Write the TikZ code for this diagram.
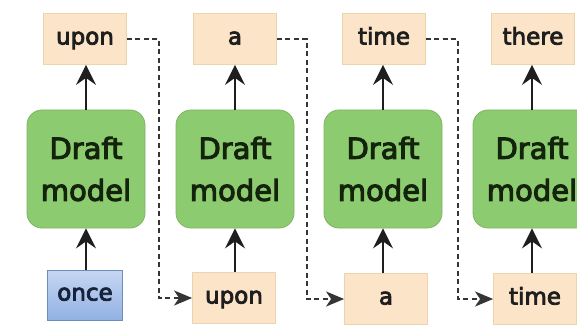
\documentclass[tikz,border=0pt]{standalone}
\usepackage{fontspec}
\setmainfont{DejaVu Sans}
\usetikzlibrary{arrows.meta}
\definecolor{tokfill}{HTML}{FCE4C8}
\definecolor{tokline}{HTML}{EFD3AE}
\definecolor{draftfill}{HTML}{8DCB70}
\definecolor{draftline}{HTML}{7DB562}
\definecolor{drafttext}{HTML}{14240C}
\definecolor{inptop}{HTML}{C6D7F3}
\definecolor{inpbot}{HTML}{92B1E3}
\definecolor{inpline}{HTML}{6C8EBF}
\definecolor{inptext}{HTML}{16213A}
\definecolor{ink}{HTML}{1E1E1E}
\newfontfamily\boxfont[FakeBold=3.5]{DejaVu Sans}
\tikzset{
  tok/.style={draw=tokline, line width=0.8pt, fill=tokfill, minimum width=83pt, minimum height=51pt,
    inner sep=0pt, text=ink, font=\fontsize{23}{28}\boxfont,
    text height=15pt, text depth=4pt},
  draftbox/.style={draw=draftline, line width=0.8pt, fill=draftfill, rounded corners=15pt,
    minimum width=118pt, minimum height=118pt, inner sep=0pt, align=center, text=drafttext,
    font=\fontsize{29}{42}\boxfont},
  inp/.style={draw=inpline, line width=0.9pt, top color=inptop, bottom color=inpbot,
    minimum width=75pt, minimum height=50pt, inner sep=0pt, text=inptext,
    font=\fontsize{23}{28}\boxfont, text height=15pt, text depth=4pt},
  uparr/.style={draw=ink, line width=1.7pt, -{Stealth[length=20pt,width=20pt,inset=7pt]}},
  passarr/.style={draw=ink!90, line width=1.7pt, dash pattern=on 5pt off 3.5pt,
    -{Stealth[length=18pt,width=15pt,inset=5pt]}},
}
\begin{document}
\begin{tikzpicture}[x=1pt,y=-1pt]
  \useasboundingbox (0,0) rectangle (577,331);
  \fill[white] (0,0) rectangle (577,331);
  \clip (0,0) rectangle (577,331);

  % column 1
  \node[tok] (t1) at (85,39) {upon};
  \node[draftbox] (d1) at (86,169) {Draft\\model};
  \node[inp] (i1) at (85,295) {once};
  % column 2
  \node[tok] (t2) at (235,39) {a};
  \node[draftbox] (d2) at (235,169) {Draft\\model};
  \node[tok] (b2) at (234,298) {upon};
  % column 3
  \node[tok] (t3) at (384,39) {time};
  \node[draftbox] (d3) at (383,169) {Draft\\model};
  \node[tok] (b3) at (386,299) {a};
  % column 4
  \node[tok] (t4) at (533,39) {there};
  \node[draftbox] (d4) at (532,169) {Draft\\model};
  \node[tok] (b4) at (535,299) {time};

  % model inputs and outputs (vertical, on each model's axis)
  \draw[uparr] (i1.north -| d1.south) -- (d1.south);
  \draw[uparr] (d1.north) -- (d1.north |- t1.south);
  \draw[uparr] (b2.north -| d2.south) -- (d2.south);
  \draw[uparr] (d2.north) -- (d2.north |- t2.south);
  \draw[uparr] (b3.north -| d3.south) -- (d3.south);
  \draw[uparr] (d3.north) -- (d3.north |- t3.south);
  \draw[uparr] (b4.north -| d4.south) -- (d4.south);
  \draw[uparr] (d4.north) -- (d4.north |- t4.south);

  % each drafted token is fed to the next step
  \draw[passarr] (t1.east) -- ++(32,0) |- (b2.west);
  \draw[passarr] (t2.east) -- ++(30,0) |- (b3.west);
  \draw[passarr] (t3.east) -- ++(32,0) |- (b4.west);
\end{tikzpicture}
\end{document}
